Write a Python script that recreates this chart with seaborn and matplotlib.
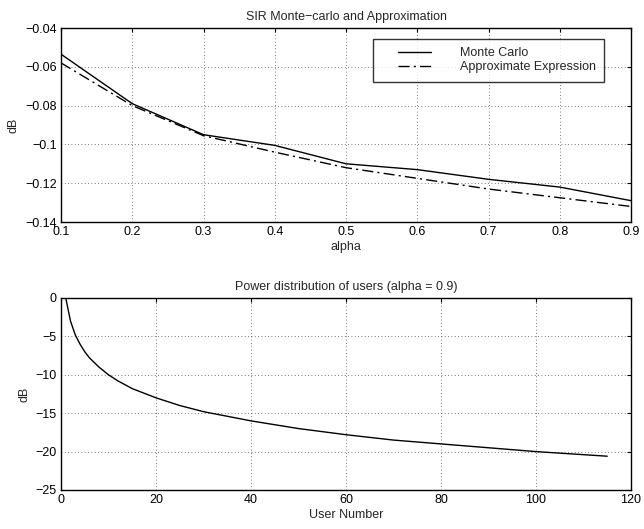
import numpy as np
import pandas as pd
import seaborn as sns
import matplotlib
matplotlib.use("Agg")
import matplotlib.pyplot as plt
from matplotlib.lines import Line2D
from matplotlib.legend_handler import HandlerLine2D

# SIR vs alpha
alpha = [0.1, 0.2, 0.3, 0.4, 0.5, 0.6, 0.7, 0.8, 0.9]
monte_carlo = [-0.0535, -0.079, -0.095, -0.1005, -0.110, -0.113, -0.118, -0.122, -0.129]
approx = [-0.058, -0.080, -0.0955, -0.104, -0.112, -0.1175, -0.123, -0.1275, -0.132]

# power distribution (alpha = 0.9)
user_num = [1, 2, 3, 4, 5, 6, 8, 10, 12, 15, 20, 25, 30, 40, 50, 60, 70, 80, 90, 100, 115]
power_db = [0.0, -3.0, -4.8, -6.0, -7.0, -7.8, -9.0, -10.0, -10.8, -11.8, -13.0, -14.0,
            -14.8, -16.0, -17.0, -17.8, -18.5, -19.0, -19.5, -20.0, -20.6]

sns.set_style("white")
plt.rcParams['font.family'] = ['Liberation Sans', 'DejaVu Sans']
plt.rcParams['font.size'] = 9
plt.rcParams['xtick.direction'] = 'in'
plt.rcParams['ytick.direction'] = 'in'
plt.rcParams['xtick.top'] = True
plt.rcParams['ytick.right'] = True
plt.rcParams['xtick.major.size'] = 3
plt.rcParams['ytick.major.size'] = 3

fig = plt.figure(figsize=(6.44, 5.29), dpi=100)
ax1 = fig.add_axes([61 / 644, 1 - 222 / 529, 570 / 644, 194 / 529])
ax2 = fig.add_axes([61 / 644, 1 - 490 / 529, 570 / 644, 192 / 529])

df1 = pd.DataFrame({'alpha': alpha, 'mc': monte_carlo, 'ap': approx})
sns.lineplot(data=df1, x='alpha', y='mc', ax=ax1, color='black', lw=1, label='Monte Carlo')
sns.lineplot(data=df1, x='alpha', y='ap', ax=ax1, color='black', lw=1,
             linestyle=(0, (8, 3, 1.5, 3)), label='Approximate Expression')
ax1.set_xlim(0.1, 0.9)
ax1.set_ylim(-0.14, -0.04)
ax1.set_xticks(np.arange(0.1, 0.91, 0.1))
ax1.set_yticks([-0.14, -0.12, -0.1, -0.08, -0.06, -0.04])
ax1.set_yticklabels(['\u22120.14', '\u22120.12', '\u22120.1', '\u22120.08', '\u22120.06', '\u22120.04'])
ax1.set_xticklabels(['0.1', '0.2', '0.3', '0.4', '0.5', '0.6', '0.7', '0.8', '0.9'])
ax1.set_xlabel('alpha', labelpad=2)
ax1.set_ylabel('dB', labelpad=4)
ax1.set_title('SIR Monte\u2212carlo and Approximation', fontsize=9, pad=6)

# legend: handle set in from the left edge of the box, as in the original
leg = ax1.legend(loc='upper left', bbox_to_anchor=(0.547, 0.945), frameon=True, fancybox=False,
                 edgecolor='black', handlelength=3.95, handletextpad=2.3, borderpad=0.7,
                 borderaxespad=0, labelspacing=0.15, fontsize=9,
                 handler_map={Line2D: HandlerLine2D(xpad=1.3)})
leg.get_frame().set_linewidth(1)

df2 = pd.DataFrame({'user': user_num, 'db': power_db})
sns.lineplot(data=df2, x='user', y='db', ax=ax2, color='black', lw=1)
ax2.set_xlim(0, 120)
ax2.set_ylim(-25, 0)
ax2.set_xticks(range(0, 121, 20))
ax2.set_yticks(range(-25, 1, 5))
ax2.set_yticklabels(['\u221225', '\u221220', '\u221215', '\u221210', '\u22125', '0'])
ax2.set_xlabel('User Number', labelpad=2)
ax2.set_ylabel('dB', labelpad=4)
ax2.set_title('Power distribution of users (alpha = 0.9)', fontsize=9, pad=6)

for ax in (ax1, ax2):
    ax.grid(True, linestyle=(0, (1, 3)), color='black', lw=0.6, alpha=0.7)
    for s in ax.spines.values():
        s.set_color('black')
        s.set_linewidth(1)
    ax.tick_params(colors='black', labelsize=9, pad=3)

fig.savefig('out.png', dpi=100)
